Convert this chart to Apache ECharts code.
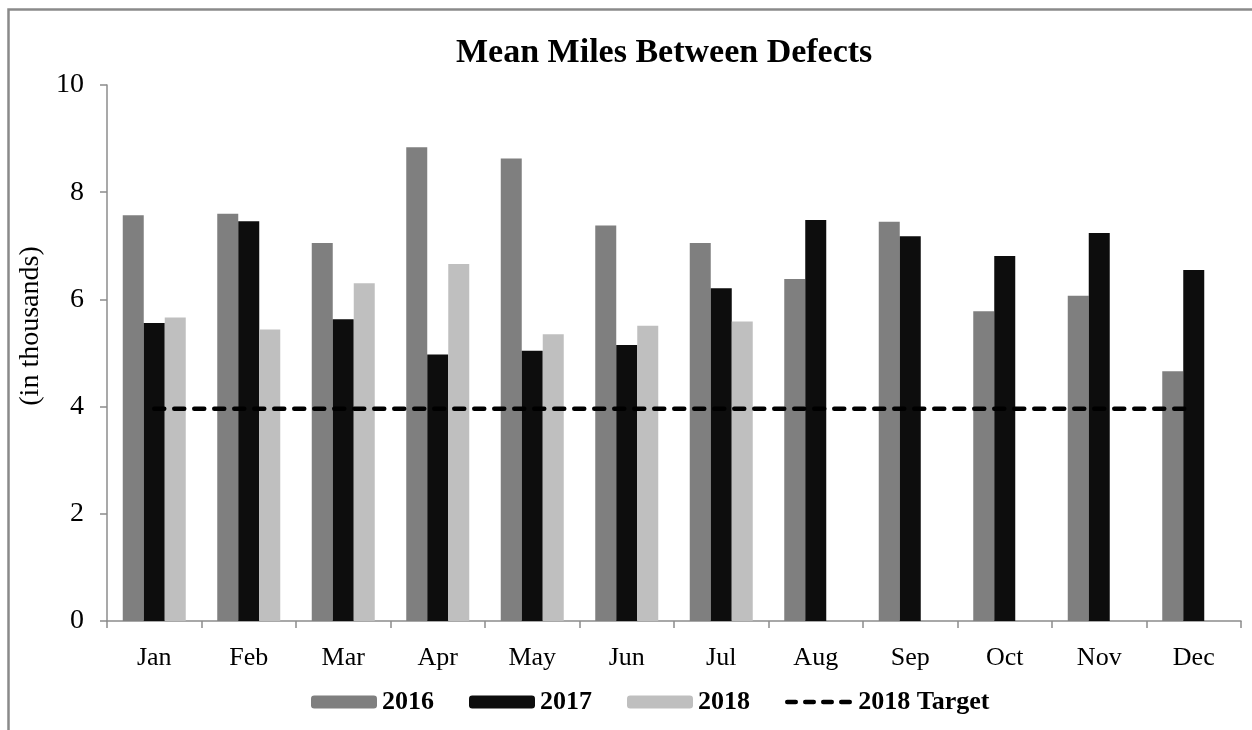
<!DOCTYPE html>
<html>
<head>
<meta charset="utf-8">
<title>Mean Miles Between Defects</title>
<script src="https://cdn.jsdelivr.net/npm/echarts@6/dist/echarts.min.js"></script>
<style>
  html, body { margin: 0; padding: 0; background: #ffffff; }
  #chart { width: 1252px; height: 730px; }
</style>
</head>
<body>
<div id="chart"></div>
<script>
// Months along the category axis
const months = ['Jan', 'Feb', 'Mar', 'Apr', 'May', 'Jun', 'Jul', 'Aug', 'Sep', 'Oct', 'Nov', 'Dec'];

// Mean miles between defects, in thousands
const y2016 = [7.57, 7.60, 7.05, 8.84, 8.63, 7.38, 7.05, 6.38, 7.45, 5.78, 6.07, 4.66];
const y2017 = [5.56, 7.46, 5.63, 4.97, 5.04, 5.15, 6.21, 7.48, 7.18, 6.81, 7.24, 6.55];
const y2018 = [5.66, 5.44, 6.30, 6.66, 5.35, 5.51, 5.59, null, null, null, null, null];
const target2018 = [3.96, 3.96, 3.96, 3.96, 3.96, 3.96, 3.96, 3.96, 3.96, 3.96, 3.96, 3.96];

const seriesNames = ['2016', '2017', '2018', '2018 Target'];

const serif = '"Liberation Serif", "DejaVu Serif", serif';
const axisGray = '#8c8c8c';

const chart = echarts.init(document.getElementById('chart'), null, { renderer: 'canvas' });

chart.setOption({
  animation: false,
  backgroundColor: '#ffffff',
  // outer frame of the chart area
  graphic: [{
    type: 'rect',
    shape: { x: 8.5, y: 9.5, width: 1400, height: 900 },
    style: { fill: 'none', stroke: '#8a8a8a', lineWidth: 2.5 },
    silent: true
  }],
  title: {
    text: 'Mean Miles Between Defects',
    left: 451,
    top: 31,
    textStyle: { fontFamily: serif, fontSize: 34, fontWeight: 'bold', color: '#000000' }
  },
  legend: {
    data: [
      seriesNames[0],
      seriesNames[1],
      seriesNames[2],
      {
        name: seriesNames[3],
        itemStyle: { opacity: 0 },
        lineStyle: { type: [8.5, 9.5], width: 4.5, cap: 'round' }
      }
    ],
    left: 306,
    top: 684,
    itemWidth: 66,
    itemHeight: 13,
    itemGap: 35,
    textStyle: { fontFamily: serif, fontSize: 26, fontWeight: 'bold', color: '#000000' }
  },
  grid: { left: 107, right: 11, top: 85, bottom: 109, containLabel: false },
  xAxis: {
    type: 'category',
    data: months,
    boundaryGap: true,
    axisLine: { show: true, lineStyle: { color: axisGray, width: 1.5 } },
    axisTick: { show: true, length: 7, lineStyle: { color: axisGray, width: 1.5 } },
    axisLabel: { margin: 24, fontFamily: serif, fontSize: 26, color: '#000000' },
    splitLine: { show: false }
  },
  yAxis: {
    type: 'value',
    min: 0,
    max: 10,
    interval: 2,
    name: '(in thousands)',
    nameLocation: 'middle',
    nameRotate: 90,
    nameGap: 56,
    nameTextStyle: { fontFamily: serif, fontSize: 28, color: '#000000', padding: [0, 0, 0, 54] },
    axisLine: { show: true, lineStyle: { color: axisGray, width: 1.5 } },
    axisTick: { show: true, length: 7, lineStyle: { color: axisGray, width: 1.5 } },
    axisLabel: { margin: 23, fontFamily: serif, fontSize: 28, color: '#000000' },
    splitLine: { show: false }
  },
  series: [
    {
      name: seriesNames[0], type: 'bar', data: y2016,
      barWidth: 21, barGap: '0%',
      itemStyle: { color: '#7f7f7f' }
    },
    {
      name: seriesNames[1], type: 'bar', data: y2017,
      barWidth: 21, barGap: '0%',
      itemStyle: { color: '#0d0d0d' }
    },
    {
      name: seriesNames[2], type: 'bar', data: y2018,
      barWidth: 21, barGap: '0%',
      itemStyle: { color: '#bfbfbf' }
    },
    {
      name: seriesNames[3], type: 'line', data: target2018,
      symbol: 'none',
      z: 5,
      lineStyle: { color: '#000000', width: 4.5, type: [10, 10], cap: 'round' },
      itemStyle: { color: '#000000' }
    }
  ]
});
</script>
</body>
</html>
